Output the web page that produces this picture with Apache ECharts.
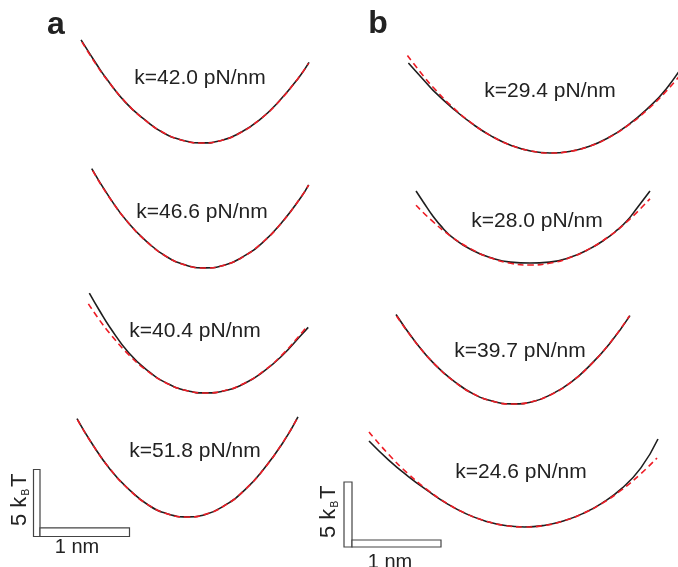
<!DOCTYPE html>
<html><head><meta charset="utf-8">
<script src="https://cdn.jsdelivr.net/npm/echarts@6/dist/echarts.min.js"></script>
<style>html,body{margin:0;padding:0;background:#fff}#c{width:678px;height:567px}</style>
</head><body><div id="c"></div>
<script>
// ---- data: x in nm, energy in k_BT ----
const a1Data = [[-1.26,7.70],[-1.1,5.90],[-1.0,4.85],[-0.8,3.05],[-0.6,1.76],[-0.4,0.75],[-0.2,0.20],[0,0.01],[0.2,0.18],[0.4,0.78],[0.6,1.72],[0.8,3.10],[1.0,4.80],[1.115,6.02]];
const a1Fit  = [[-1.25,7.53],[-1.1,5.83],[-1.0,4.82],[-0.8,3.08],[-0.6,1.74],[-0.4,0.77],[-0.2,0.19],[0,0],[0.2,0.19],[0.4,0.77],[0.6,1.74],[0.8,3.08],[1.0,4.82],[1.11,5.94]];
const a2Data = [[-1.18,7.42],[-1.0,5.33],[-0.8,3.37],[-0.6,1.93],[-0.4,0.84],[-0.2,0.22],[0,0.01],[0.2,0.20],[0.4,0.86],[0.6,1.90],[0.8,3.40],[1.0,5.28],[1.08,6.20]];
const a2Fit  = [[-1.17,7.26],[-1.0,5.30],[-0.8,3.39],[-0.6,1.91],[-0.4,0.85],[-0.2,0.21],[0,0],[0.2,0.21],[0.4,0.85],[0.6,1.91],[0.8,3.39],[1.0,5.30],[1.08,6.18]];
const a3Data = [[-1.21,7.46],[-1.1,6.10],[-1.0,4.95],[-0.8,3.00],[-0.6,1.65],[-0.4,0.72],[-0.2,0.18],[0,0.01],[0.2,0.17],[0.4,0.69],[0.6,1.58],[0.8,2.80],[1.0,4.35],[1.07,4.90]];
const a3Fit  = [[-1.22,6.65],[-1.1,5.40],[-1.0,4.47],[-0.8,2.86],[-0.6,1.61],[-0.4,0.71],[-0.2,0.18],[0,0],[0.2,0.18],[0.4,0.71],[0.6,1.61],[0.8,2.86],[1.0,4.47],[1.04,4.83]];
const a4Data = [[-1.146,7.35],[-1.0,5.60],[-0.8,3.55],[-0.6,2.03],[-0.4,0.88],[-0.2,0.23],[0,0.01],[0.2,0.21],[0.4,0.90],[0.6,2.00],[0.8,3.58],[1.0,5.55],[1.156,7.48]];
const a4Fit  = [[-1.14,7.25],[-1.0,5.58],[-0.8,3.57],[-0.6,2.01],[-0.4,0.89],[-0.2,0.22],[0,0],[0.2,0.22],[0.4,0.89],[0.6,2.01],[0.8,3.57],[1.0,5.58],[1.15,7.38]];
const b1Data = [[-1.46,6.92],[-1.3,5.60],[-1.2,4.78],[-1.0,3.42],[-0.8,2.24],[-0.6,1.28],[-0.4,0.58],[-0.2,0.15],[0,0.0],[0.2,0.12],[0.4,0.50],[0.6,1.17],[0.8,2.13],[1.0,3.38],[1.2,4.95],[1.4,7.10]];
const b1Fit  = [[-1.47,7.50],[-1.3,5.88],[-1.2,5.02],[-1.0,3.50],[-0.8,2.26],[-0.6,1.29],[-0.4,0.59],[-0.2,0.16],[0,0],[0.2,0.12],[0.4,0.50],[0.6,1.16],[0.8,2.10],[1.0,3.30],[1.2,4.77],[1.4,6.52]];
const b2Data = [[-1.175,5.69],[-1.1,4.85],[-1.0,3.75],[-0.9,2.85],[-0.8,2.12],[-0.6,1.15],[-0.4,0.55],[-0.2,0.22],[0,0.15],[0.2,0.22],[0.4,0.55],[0.6,1.18],[0.8,2.10],[0.9,2.70],[1.0,3.40],[1.1,4.35],[1.237,5.69]];
const b2Fit  = [[-1.175,4.60],[-1.0,3.33],[-0.8,2.13],[-0.6,1.20],[-0.4,0.53],[-0.2,0.13],[0,0],[0.2,0.13],[0.4,0.53],[0.6,1.20],[0.8,2.13],[1.0,3.33],[1.237,5.10]];
const b3Data = [[-1.206,6.88],[-1.0,4.72],[-0.8,2.99],[-0.6,1.71],[-0.4,0.74],[-0.2,0.20],[0,0.01],[0.2,0.18],[0.4,0.76],[0.6,1.68],[0.8,3.03],[1.0,4.68],[1.206,6.80]];
const b3Fit  = [[-1.2,6.77],[-1.0,4.70],[-0.8,3.01],[-0.6,1.69],[-0.4,0.75],[-0.2,0.19],[0,0],[0.2,0.19],[0.4,0.75],[0.6,1.69],[0.8,3.01],[1.0,4.70],[1.2,6.77]];
const b4Data = [[-1.603,6.62],[-1.4,5.15],[-1.2,3.90],[-1.0,2.80],[-0.8,1.80],[-0.6,1.01],[-0.4,0.45],[-0.2,0.11],[0,0.0],[0.2,0.12],[0.4,0.46],[0.6,1.03],[0.8,1.84],[1.0,2.95],[1.2,4.55],[1.376,6.77]];
const b4Fit  = [[-1.603,7.31],[-1.4,5.58],[-1.2,4.10],[-1.0,2.85],[-0.8,1.82],[-0.6,1.02],[-0.4,0.46],[-0.2,0.11],[0,0],[0.2,0.11],[0.4,0.46],[0.6,1.02],[0.8,1.82],[1.0,2.85],[1.2,4.10],[1.366,5.31]];
const labels = ['k=42.0 pN/nm','k=46.6 pN/nm','k=40.4 pN/nm','k=51.8 pN/nm','k=29.4 pN/nm','k=28.0 pN/nm','k=39.7 pN/nm','k=24.6 pN/nm'];

// ---- layout ----
const W = 678;
const scales = {a:{sx:96, sy:13.4}, b:{sx:97, sy:13.0}};
const X_LIM = 1.8, Y_MIN = -1, Y_MAX = 9;
const panels = [
  {data:a1Data, fit:a1Fit, col:'a', cx:202,   cy:143, lx:200, ly:78},
  {data:a2Data, fit:a2Fit, col:'a', cx:205,   cy:268, lx:202, ly:212},
  {data:a3Data, fit:a3Fit, col:'a', cx:205.5, cy:393, lx:195, ly:331},
  {data:a4Data, fit:a4Fit, col:'a', cx:187,   cy:517, lx:195, ly:451},
  {data:b1Data, fit:b1Fit, col:'b', cx:550,   cy:153, lx:550, ly:91},
  {data:b2Data, fit:b2Fit, col:'b', cx:530,   cy:265, lx:537, ly:221},
  {data:b3Data, fit:b3Fit, col:'b', cx:513,   cy:404, lx:520, ly:351},
  {data:b4Data, fit:b4Fit, col:'b', cx:524.5, cy:527, lx:521, ly:472}
];
const FONT = '"Liberation Sans", Arial, Helvetica, sans-serif';
const TXT = '#222';

const grid = [], xAxis = [], yAxis = [], series = [], graphic = [];
panels.forEach((p, i) => {
  const s = scales[p.col];
  const xmin = -Math.min(X_LIM, p.cx / s.sx);
  const xmax = Math.min(X_LIM, (W - p.cx) / s.sx);
  grid.push({left: p.cx + xmin*s.sx, top: p.cy - Y_MAX*s.sy, width: (xmax-xmin)*s.sx, height: (Y_MAX-Y_MIN)*s.sy});
  xAxis.push({type:'value', gridIndex:i, min:xmin, max:xmax, show:false});
  yAxis.push({type:'value', gridIndex:i, min:Y_MIN, max:Y_MAX, show:false});
  series.push({type:'line', xAxisIndex:i, yAxisIndex:i, data:p.data, smooth:true, showSymbol:false, silent:true,
    lineStyle:{color:'#1e1e1e', width:1.6}, z:2});
  series.push({type:'line', xAxisIndex:i, yAxisIndex:i, data:p.fit, smooth:true, showSymbol:false, silent:true,
    lineStyle:{color:'#ee1c25', width:1.6, type:[6,4]}, z:3});
  graphic.push({type:'text', x:p.lx, y:p.ly, z:10, style:{text:labels[i], font:'21px '+FONT, fill:TXT, textAlign:'center', textVerticalAlign:'middle'}});
});

// panel letters
graphic.push({type:'text', x:56, y:25, style:{text:'a', font:'bold 32px '+FONT, fill:'#222', textAlign:'center', textVerticalAlign:'middle'}});
graphic.push({type:'text', x:378, y:24, style:{text:'b', font:'bold 32px '+FONT, fill:'#222', textAlign:'center', textVerticalAlign:'middle'}});

// scale bars: 1 nm horizontal, 5 kBT vertical
const bars = [
  {col:'a', x0:33.5, yb:536.5, tv:6.5, th:8.7, kx:20,  ky:526, nx:77,  ny:547},
  {col:'b', x0:344,  yb:547,   tv:8,   th:7,   kx:329, ky:538, nx:390, ny:562}
];
bars.forEach(b => {
  const s = scales[b.col];
  const h = 5*s.sy, w = 1*s.sx;
  graphic.push({type:'rect', shape:{x:b.x0, y:b.yb-h, width:b.tv, height:h}, style:{fill:'#fff', stroke:'#444', lineWidth:1.2}});
  graphic.push({type:'rect', shape:{x:b.x0+b.tv, y:b.yb-b.th, width:w-b.tv, height:b.th}, style:{fill:'#fff', stroke:'#444', lineWidth:1.2}});
  graphic.push({type:'group', x:b.kx, y:b.ky, rotation:Math.PI/2, children:[
    {type:'text', x:0, y:0, style:{text:'5 k', font:'22px '+FONT, fill:TXT, textAlign:'left', textVerticalAlign:'middle'}},
    {type:'text', x:30.5, y:6, style:{text:'B', font:'10px '+FONT, fill:TXT, textAlign:'left', textVerticalAlign:'middle'}},
    {type:'text', x:39, y:0, style:{text:'T', font:'22px '+FONT, fill:TXT, textAlign:'left', textVerticalAlign:'middle'}}
  ]});
  graphic.push({type:'text', x:b.nx, y:b.ny, style:{text:'1 nm', font:'20px '+FONT, fill:TXT, textAlign:'center', textVerticalAlign:'middle'}});
});

const chart = echarts.init(document.getElementById('c'), null, {renderer:'canvas'});
chart.setOption({animation:false, backgroundColor:'#fff', grid, xAxis, yAxis, series, graphic});
</script></body></html>
